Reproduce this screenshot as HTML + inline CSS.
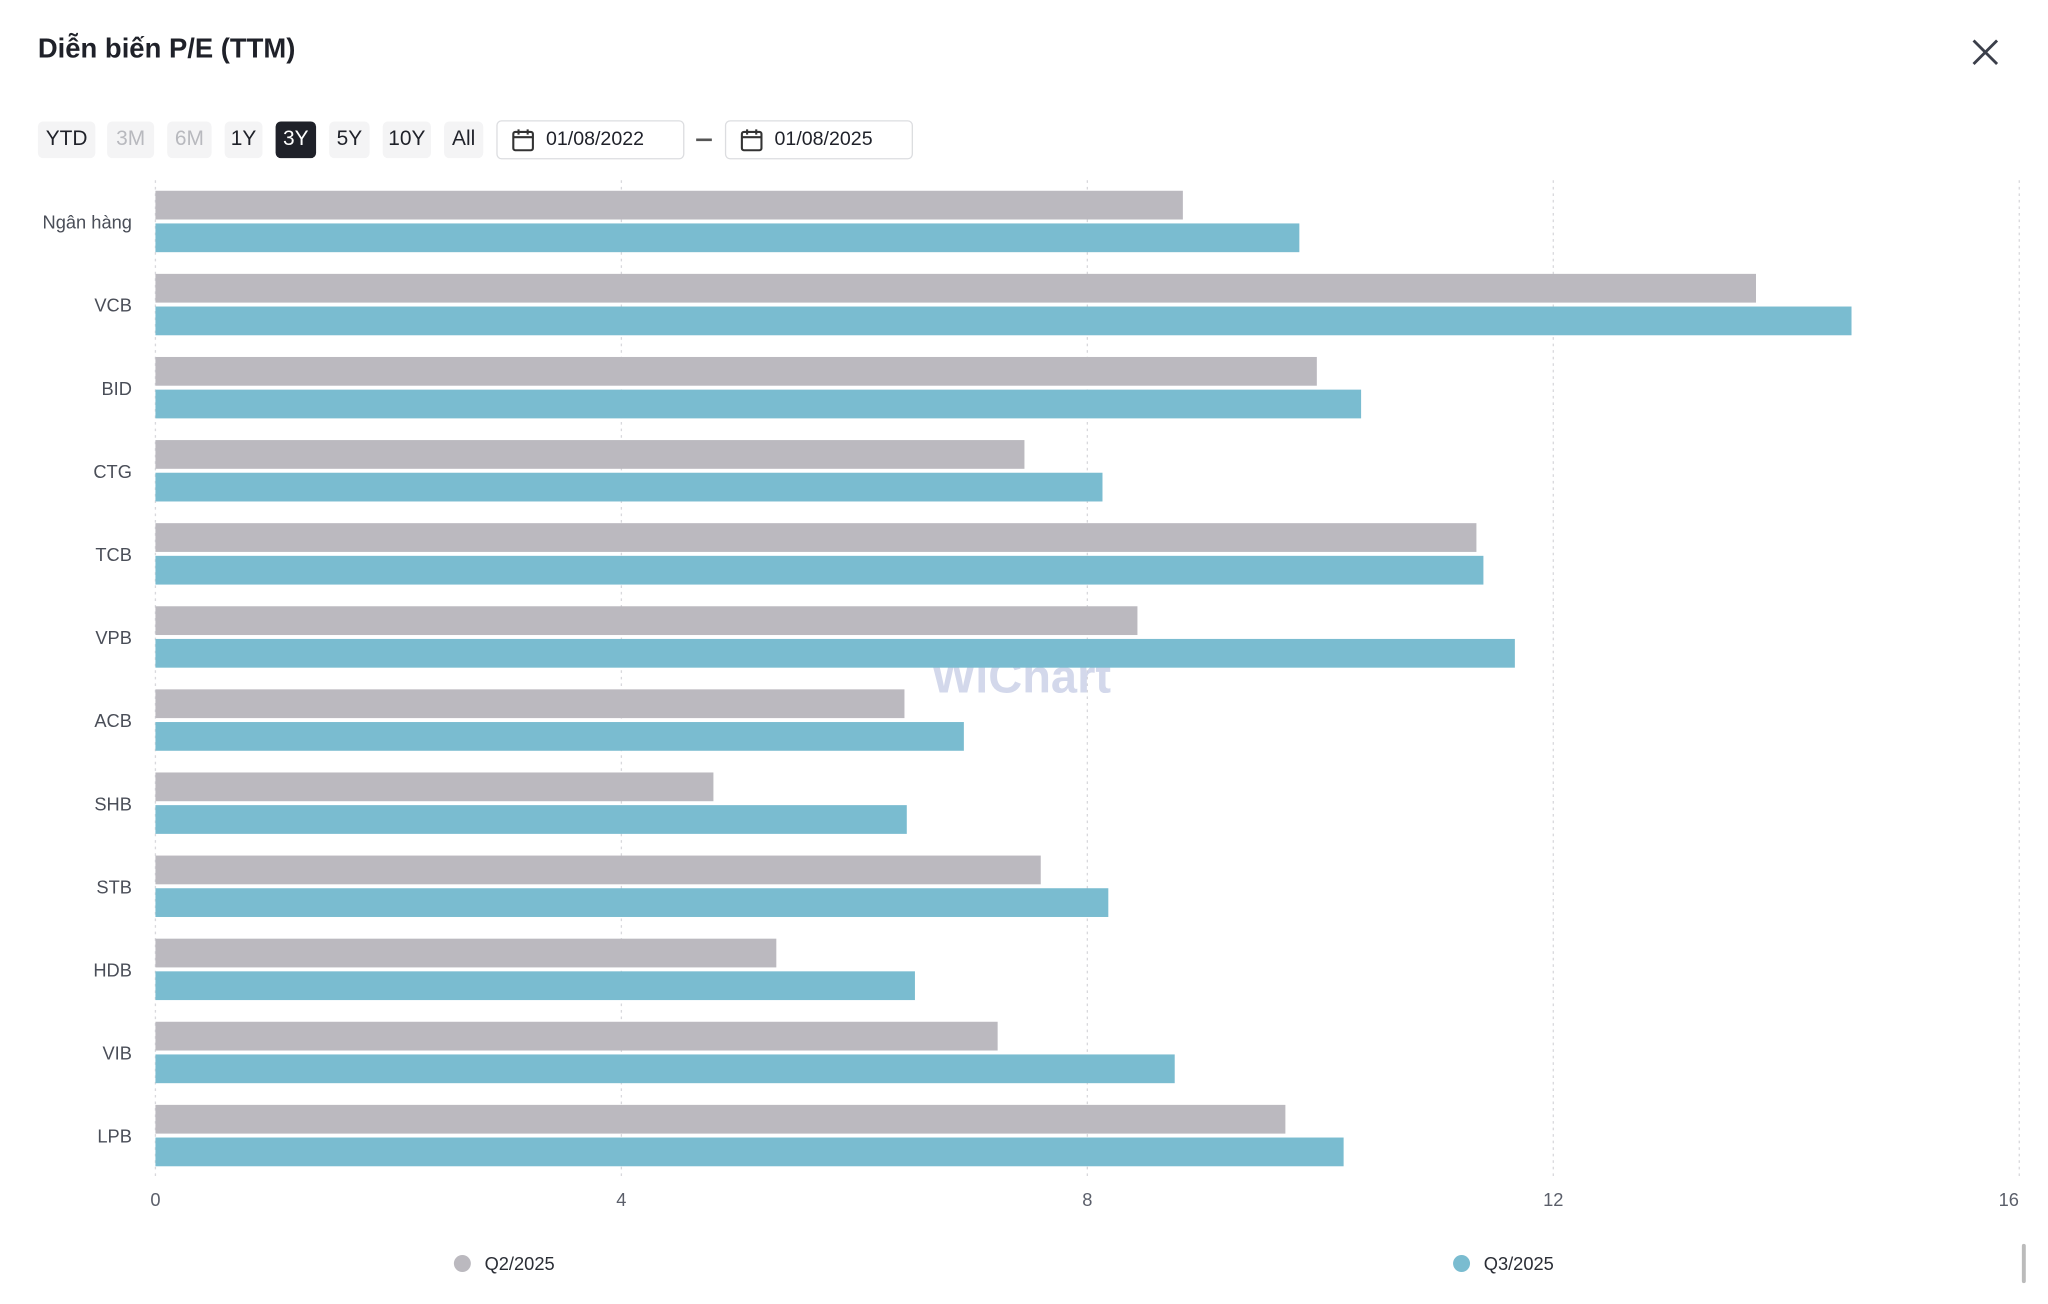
<!DOCTYPE html>
<html><head><meta charset="utf-8"><style>
html,body{margin:0;padding:0;background:#fff;width:2048px;height:1304px;overflow:hidden}
#root{position:absolute;left:0;top:0;width:1568px;height:998px;transform:scale(1.30612,1.30661);transform-origin:0 0;font-family:"Liberation Sans","DejaVu Sans",sans-serif;color:#1f2129}
.btn{position:absolute;top:93px;height:28px;line-height:28px;background:#f4f4f5;border-radius:4px;font-size:16px;text-align:center}
.date{position:absolute;top:92px;height:28px;border:1px solid #dcdde0;border-radius:4px;font-size:15px;line-height:28px;background:#fff}
</style></head><body>
<div id="root">
<div style="position:absolute;left:29px;top:26px;font-size:21px;font-weight:bold">Diễn biến P/E (TTM)</div>
<div style="position:absolute;left:1506px;top:26px;width:28px;height:28px">
<svg width="28" height="28"><path d="M5 5L23 23M23 5L5 23" stroke="#3b3f4a" stroke-width="2.2"/></svg></div>
<div class="btn" style="left:29px;width:44px">YTD</div>
<div class="btn" style="left:82px;width:36px;color:#b8b9be">3M</div>
<div class="btn" style="left:128px;width:34px;color:#b8b9be">6M</div>
<div class="btn" style="left:172px;width:29px">1Y</div>
<div class="btn" style="left:211px;width:31px;background:#1f2129;color:#fff">3Y</div>
<div class="btn" style="left:252px;width:31px">5Y</div>
<div class="btn" style="left:293px;width:37px">10Y</div>
<div class="btn" style="left:340px;width:30px">All</div>
<div class="date" style="left:380px;width:142px"><svg style="position:absolute;left:10px;top:4px" width="20" height="20"><rect x="2" y="4" width="15" height="14" rx="1.5" fill="none" stroke="#333" stroke-width="1.6"/><path d="M2 8H17M6 2V6M13 2V6" stroke="#333" stroke-width="1.6"/></svg><span style="position:absolute;left:37px">01/08/2022</span></div>
<div style="position:absolute;left:533px;top:106px;width:12px;height:2px;background:#555"></div>
<div class="date" style="left:555px;width:142px"><svg style="position:absolute;left:10px;top:4px" width="20" height="20"><rect x="2" y="4" width="15" height="14" rx="1.5" fill="none" stroke="#333" stroke-width="1.6"/><path d="M2 8H17M6 2V6M13 2V6" stroke="#333" stroke-width="1.6"/></svg><span style="position:absolute;left:37px">01/08/2025</span></div>
<svg id="chart" style="position:absolute;left:0;top:0" width="1568" height="998"></svg>
<div style="position:absolute;left:1548px;top:952px;width:3px;height:30px;background:#bbb;border-radius:2px"></div>
</div>
<script>
const categories=["Ngân hàng","VCB","BID","CTG","TCB","VPB","ACB","SHB","STB","HDB","VIB","LPB"];
const q2Values=[8.82,13.74,9.97,7.46,11.34,8.43,6.43,4.79,7.60,5.33,7.23,9.70];
const q3Values=[9.82,14.56,10.35,8.13,11.40,11.67,6.94,6.45,8.18,6.52,8.75,10.20];
const tickValues=[0,4,8,12,16];
const seriesNames=["Q2/2025","Q3/2025"];
const NS="http://www.w3.org/2000/svg";
const svg=document.getElementById('chart');
const x0=119,x1=1546,top0=140,band=63.6;
function xs(v){return x0+(v-0)/(16-0)*(x1-x0);}
function yb(i){return top0+i*band;}
function mk(t,a){const e=document.createElementNS(NS,t);for(const k in a)e.setAttribute(k,a[k]);svg.appendChild(e);return e;}
tickValues.forEach(v=>{
 const g=mk('line',{x1:xs(v),x2:xs(v),y1:138,y2:900,stroke:'#d8d8dc','stroke-dasharray':'2,3'});
 
 
 const t=mk('text',{x:v===16?1538:xs(v),y:923,'font-size':14,fill:'#5b5f6a','text-anchor':'middle'});
 t.textContent=v;
 
 
});
const wm=mk('text',{x:713,y:530,'font-size':36,'font-weight':'bold',fill:'#c9cfe6','opacity':0.8});
wm.textContent='WiChart';


categories.forEach((c,i)=>{
 const y=yb(i);
 const r1=mk('rect',{x:x0,y:y+6,width:xs(q2Values[i])-x0,height:22,fill:'#bbb9bf'});
 
 
 const r2=mk('rect',{x:x0,y:y+31,width:xs(q3Values[i])-x0,height:22,fill:'#7abcd0'});
 
 
 const t=mk('text',{x:101,y:y+35,'font-size':14,fill:'#4a4e58','text-anchor':'end'});
 t.textContent=c;
 
 
});
[[354,'#bbb9bf',seriesNames[0]],[1119,'#7abcd0',seriesNames[1]]].forEach(([x,col,n])=>{
 const d=mk('circle',{cx:x,cy:967,r:6.5,fill:col});
 
 
 const t=mk('text',{x:x+17,y:972,'font-size':14,fill:'#2a2d35'});
 t.textContent=n;
 
 
});
</script>
</body></html>
